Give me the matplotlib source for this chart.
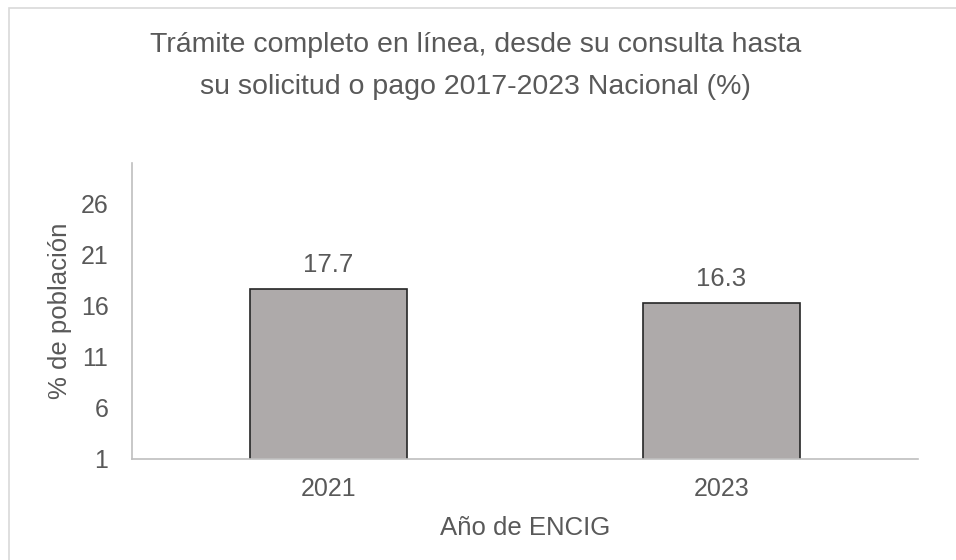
import matplotlib
matplotlib.use("Agg")
import matplotlib.pyplot as plt
from matplotlib.patches import Rectangle

categories = ["2021", "2023"]
values = [17.7, 16.3]
yticks = [1, 6, 11, 16, 21, 26]

title = "Trámite completo en línea, desde su consulta hasta\nsu solicitud o pago 2017-2023 Nacional (%)"
xlabel = "Año de ENCIG"
ylabel = "% de población"

plt.rcParams['font.family'] = ['Liberation Sans', 'DejaVu Sans']
txt = '#595959'
axc = '#BFBFBF'

fig = plt.figure(figsize=(9.56, 5.6), dpi=100)
top = 1 - 8.5 / 560
fig.patches.append(Rectangle((8.5 / 956, -0.5), 2, top + 0.5,
                             transform=fig.transFigure, fill=False, edgecolor='#D9D9D9', linewidth=1.2))

ax = fig.add_axes([132 / 956, 1 - 459 / 560, (918 - 132) / 956, (459 - 163) / 560])
x = list(range(len(categories)))
ax.bar(x, values, width=0.4, bottom=0, color='#AEAAAA', edgecolor='#262626', linewidth=1.2, zorder=2)
ax.set_xlim(-0.5, 1.5)
ax.set_ylim(1, 30)
ax.set_yticks(yticks)
ax.set_xticks(x)
ax.set_xticklabels(categories)
for i, v in enumerate(values):
    ax.annotate(f"{v:.1f}", (i, v), xytext=(0, 8.5), textcoords='offset points',
                ha='center', va='bottom', fontsize=18.5, color=txt)

for s in ['top', 'right']:
    ax.spines[s].set_visible(False)
for s in ['left', 'bottom']:
    ax.spines[s].set_color(axc)
    ax.spines[s].set_linewidth(1.2)
    ax.spines[s].set_zorder(3)
ax.tick_params(axis='both', length=0, labelsize=18, colors=txt)
ax.tick_params(axis='y', pad=17)
ax.tick_params(axis='x', pad=13)
ax.set_xlabel(xlabel, fontsize=18.5, color=txt)
ax.set_ylabel(ylabel, fontsize=18.5, color=txt)
ax.yaxis.label.set_va('center')
ax.xaxis.label.set_va('center')
ax.xaxis.set_label_coords(ax.get_position().x0 + ax.get_position().width / 2, 1 - 528 / 560, transform=fig.transFigure)
ax.yaxis.set_label_coords(60 / 956, 1 - 311 / 560, transform=fig.transFigure)

fig.text(0.497, 1 - 66 / 560, title, ha='center', va='center', fontsize=20.5, color=txt, linespacing=1.75)

fig.savefig("out.png", dpi=100)
